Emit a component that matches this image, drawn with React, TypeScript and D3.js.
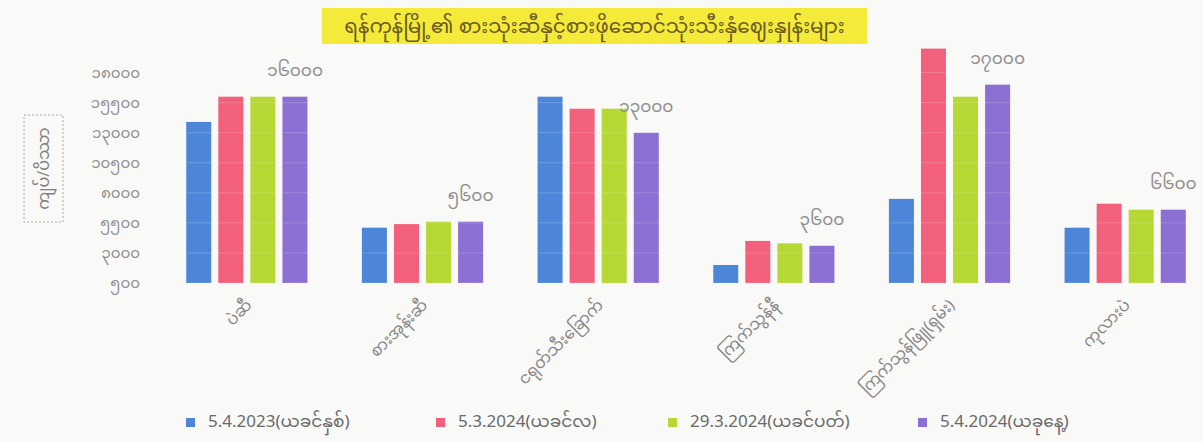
import * as d3 from 'd3';

// ရန်ကုန်မြို့ ဈေးနှုန်း (ကျပ်/ပိဿာ)
const categories = ['ပဲဆီ', 'စားအုန်းဆီ', 'ငရုတ်သီးခြောက်', 'ကြက်သွန်နီ', 'ကြက်သွန်ဖြူ(ရှမ်း)', 'ကုလားပဲ'];
const seriesNames = ['5.4.2023(ယခင်နှစ်)', '5.3.2024(ယခင်လ)', '29.3.2024(ယခင်ပတ်)', '5.4.2024(ယခုနေ့)'];
const lastYear = [13900, 5100, 16000, 2000, 7500, 5100];
const lastMonth = [16000, 5400, 15000, 4000, 20000, 7100];
const lastWeek = [16000, 5600, 15000, 3800, 16000, 6600];
const today = [16000, 5600, 13000, 3600, 17000, 6600];
const yTicks = [500, 3000, 5500, 8000, 10500, 13000, 15500, 18000];

const title = 'ရန်ကုန်မြို့၏ စားသုံးဆီနှင့်စားဖိုဆောင်သုံးသီးနှံဈေးနှုန်းများ';
const yTitle = 'ကျပ်/ပိဿာ';
const colors = ['#4d86d9', '#f2607c', '#b6d834', '#8c6fd2'];

const W = 1203;
const H = 442;
const font = '"Noto Sans Myanmar", "Myanmar Text", Padauk, "Noto Sans", "DejaVu Sans", sans-serif';

const mmDigits = '၀၁၂၃၄၅၆၇၈၉';
const toMM = (n: number) => String(n).replace(/\d/g, (d) => mmDigits[+d]);

export default function App() {
  const series = [lastYear, lastMonth, lastWeek, today];

  const x = d3.scaleBand().domain(categories).range([159, 1213]).paddingInner(0.31).paddingOuter(0.155);
  const x1 = d3.scaleBand().domain(seriesNames).range([0, x.bandwidth()]).paddingInner(0.22);
  const y = d3.scaleLinear().domain([500, 20500]).range([283, 42.6]);

  const legendX = [186, 436, 668, 918];

  return (
    <div style={{ position: 'absolute', left: 0, top: 0 }}>
      <svg width={W} height={H} style={{ display: 'block', fontFamily: font }}>
        <rect width={W} height={H} fill="#f9f9f8" />

        {/* title */}
        <rect x={322} y={8} width={545} height={36} fill="#f3ea3a" />
        <text x={594.5} y={33} textAnchor="middle" fontSize={20} fill="#6b5a22">
          {title}
        </text>

        {/* y axis title */}
        <rect x={24} y={115} width={39} height={107} fill="none" stroke="#aaa" strokeDasharray="2 2" />
        <text transform={`translate(49,168.5) rotate(-90)`} textAnchor="middle" fontSize={16} fill="#808080">
          {yTitle}
        </text>

        {/* y ticks */}
        {yTicks.map((t) => (
          <text key={t} x={140} y={y(t)} dy="0.35em" textAnchor="end" fontSize={15} fill="#8e8e8e">
            {toMM(t)}
          </text>
        ))}

        {/* bars */}
        {categories.map((c, i) => (
          <g key={c} transform={`translate(${x(c)},0)`}>
            {series.map((s, j) => (
              <rect
                key={j}
                x={x1(seriesNames[j])}
                y={y(s[i])}
                width={x1.bandwidth()}
                height={y(500) - y(s[i])}
                fill={colors[j]}
              />
            ))}
            {yTicks.map((t) => (
              <line key={t} x1={0} x2={x.bandwidth()} y1={y(t)} y2={y(t)} stroke="#fff" strokeOpacity={0.18} />
            ))}
            <text
              x={(x1(seriesNames[3]) ?? 0) + x1.bandwidth() / 2}
              y={y(today[i]) - 21}
              textAnchor="middle"
              fontSize={17}
              fill="#8e8e8e"
            >
              {toMM(today[i])}
            </text>
          </g>
        ))}

        {/* category labels */}
        {categories.map((c) => (
          <text
            key={c}
            transform={`translate(${(x(c) ?? 0) + x.bandwidth() / 2 + 6},306) rotate(-45)`}
            textAnchor="end"
            fontSize={16}
            fill="#868686"
          >
            {c}
          </text>
        ))}

        {/* legend */}
        {seriesNames.map((n, j) => (
          <g key={n} transform={`translate(${legendX[j]},418)`}>
            <rect width={9} height={9} fill={colors[j]} />
            <text x={22} y={9} fontSize={17} fill="#6a6a6a">
              {n}
            </text>
          </g>
        ))}
      </svg>
    </div>
  );
}
